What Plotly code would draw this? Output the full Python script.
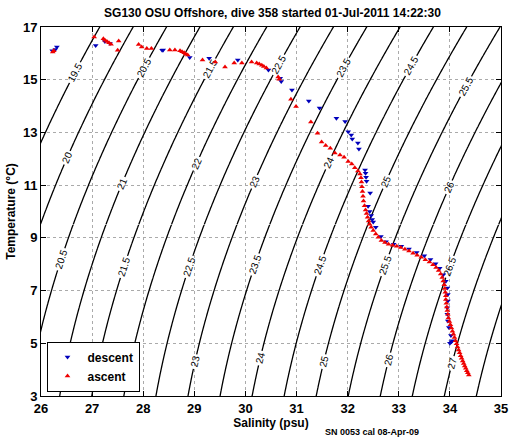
import numpy as np
import plotly.graph_objects as go

# ---- data ----
ascent_S = [34.37, 34.35, 34.33, 34.31, 34.29, 34.27, 34.25, 34.23, 34.21, 34.19, 34.17, 34.15, 34.13, 34.11,
            34.09, 34.07, 34.05, 34.03, 34.01, 33.99, 33.97, 33.96, 33.95, 33.94, 33.93, 33.92, 33.92, 33.91,
            33.90, 33.89, 33.87, 33.85, 33.82, 33.78, 33.73, 33.67, 33.60, 33.52, 33.44, 33.36, 33.28, 33.20,
            33.12, 33.04, 32.96, 32.88, 32.80, 32.73, 32.66, 32.60, 32.55, 32.50, 32.46, 32.43, 32.41, 32.39,
            32.37, 32.35, 32.33, 32.31, 32.30, 32.29, 32.28, 32.27, 32.26, 32.24, 32.20, 32.14, 32.08, 32.01,
            31.93, 31.85, 31.75, 31.66, 31.57, 31.49, 31.41, 31.28, 30.99, 30.89, 30.66, 30.64,
            30.41, 30.36, 30.32, 30.27, 30.22, 30.12, 29.93, 29.78, 29.60, 29.41, 29.16, 28.87, 28.83, 28.80,
            28.76, 28.72, 28.62, 28.52, 28.16, 28.07, 27.97, 27.91, 27.50, 27.52, 27.37, 27.33, 27.29, 27.25,
            27.22, 27.04, 26.25, 26.23]
ascent_T = [3.80, 3.88, 3.96, 4.05, 4.14, 4.23, 4.33, 4.43, 4.53, 4.64, 4.75, 4.86, 4.98, 5.10,
            5.22, 5.34, 5.46, 5.58, 5.70, 5.83, 5.96, 6.10, 6.24, 6.38, 6.52, 6.66, 6.80, 6.94,
            7.08, 7.22, 7.36, 7.50, 7.63, 7.76, 7.88, 7.98, 8.08, 8.17, 8.26, 8.34, 8.42, 8.50,
            8.57, 8.63, 8.68, 8.72, 8.76, 8.82, 8.90, 9.02, 9.15, 9.28, 9.40, 9.52, 9.64, 9.78,
            9.92, 10.06, 10.22, 10.40, 10.58, 10.76, 10.94, 11.12, 11.28, 11.42, 11.54, 11.66, 11.80, 11.90,
            12.06, 12.14, 12.22, 12.40, 12.50, 12.64, 12.97, 13.40, 13.98, 14.26, 15.02, 15.10,
            15.44, 15.50, 15.55, 15.60, 15.63, 15.67, 15.63, 15.63, 15.48, 15.67, 15.75, 15.94, 15.98, 16.02,
            16.06, 16.10, 16.13, 16.13, 16.18, 16.18, 16.24, 16.34, 16.12, 16.47, 16.35, 16.40, 16.45, 16.50,
            16.55, 16.62, 16.10, 16.05]

descent_S = [26.31, 26.28, 26.22, 27.07, 27.25, 27.35, 28.37, 28.39, 28.91, 29.29, 29.85, 30.45, 30.68,
             30.70, 30.91, 31.24, 31.45, 31.78, 31.95, 32.01, 32.07, 32.09, 32.20, 32.22, 32.34, 32.35,
             32.36, 32.37, 32.44, 32.40, 32.43, 32.46, 32.48, 32.50, 32.55, 32.65, 32.75, 32.90, 33.05,
             33.20, 33.35, 33.50, 33.62, 33.72, 33.80, 33.87, 33.92, 33.95, 33.96, 33.96, 33.95, 33.95,
             33.96, 33.98, 34.02, 34.03, 34.00, 34.05]
descent_T = [16.24, 16.15, 16.10, 16.30, 16.45, 16.37, 16.12, 16.13, 15.84, 15.81, 15.75, 15.37, 15.06,
             14.93, 14.61, 14.19, 13.93, 13.54, 13.41, 13.03, 12.90, 12.75, 12.60, 12.37, 11.57, 11.45,
             11.30, 11.15, 10.70, 10.20, 10.00, 9.85, 9.70, 9.60, 9.40, 9.05, 8.85, 8.76, 8.68,
             8.58, 8.44, 8.32, 8.18, 8.02, 7.85, 7.60, 7.35, 7.10, 6.85, 6.60, 6.35, 6.10,
             5.85, 5.60, 5.30, 5.06, 5.00, 5.10]

sigma_levels_start, sigma_levels_end, sigma_levels_step = 19.5, 27.5, 0.5
x_ticks = list(range(26, 36))
y_ticks = [3, 5, 7, 9, 11, 13, 15, 17]


def sigma_t(S, T):
    rw = (999.842594 + 6.793952e-2 * T - 9.095290e-3 * T**2 + 1.001685e-4 * T**3
          - 1.120083e-6 * T**4 + 6.536332e-9 * T**5)
    A = 0.824493 - 4.0899e-3 * T + 7.6438e-5 * T**2 - 8.2467e-7 * T**3 + 5.3875e-9 * T**4
    B = -5.72466e-3 + 1.0227e-4 * T - 1.6546e-6 * T**2
    C = 4.8314e-4
    return rw + A * S + B * S**1.5 + C * S**2 - 1000.0


font_family = "Liberation Sans, Arial, sans-serif"
sg = np.linspace(25.8, 35.2, 190)

fig = go.Figure()
# two stacked contour pieces so every isopycnal gets a label in the upper and lower half
for t_lo, t_hi in [(9.5, 17.2), (2.8, 9.5)]:
    tg = np.linspace(t_lo, t_hi, int(round((t_hi - t_lo) / 0.1)) + 1)
    SS, TT = np.meshgrid(sg, tg)
    fig.add_trace(go.Contour(
        x=sg, y=tg, z=sigma_t(SS, TT),
        contours=dict(start=sigma_levels_start, end=sigma_levels_end, size=sigma_levels_step,
                      coloring="lines", showlabels=True,
                      labelfont=dict(family=font_family, size=10, color="black")),
        colorscale=[[0, "black"], [1, "black"]],
        line=dict(width=1.3, smoothing=1),
        showscale=False, showlegend=False, hoverinfo="skip",
    ))

fig.add_trace(go.Scatter(
    x=descent_S, y=descent_T, mode="markers", name="descent",
    marker=dict(symbol="triangle-down", size=5, color="#0000bb"),
))
fig.add_trace(go.Scatter(
    x=ascent_S, y=ascent_T, mode="markers", name="ascent",
    marker=dict(symbol="triangle-up", size=5, color="#ee0000"),
))

axis_common = dict(
    showline=True, linecolor="black", linewidth=1, mirror="ticks",
    ticks="inside", ticklen=5, tickcolor="black",
    showgrid=True, gridcolor="#aaaaaa", griddash="dot", gridwidth=1,
    zeroline=False,
    tickfont=dict(family=font_family, size=13, color="black", weight="bold"),
)

fig.update_layout(
    width=519, height=442,
    margin=dict(l=41, r=11, t=27, b=46),
    paper_bgcolor="white", plot_bgcolor="white",
    title=dict(text="SG130 OSU Offshore, dive 358 started 01-Jul-2011 14:22:30",
               x=0.525, xanchor="center", y=0.97, yanchor="middle",
               font=dict(family=font_family, size=12, color="black", weight="bold")),
    xaxis=dict(range=[26, 35], tickvals=x_ticks, **axis_common,
               title=dict(text="Salinity (psu)", standoff=4,
                          font=dict(family=font_family, size=12, color="black", weight="bold"))),
    yaxis=dict(range=[3, 17], tickvals=y_ticks, **axis_common,
               title=dict(text="Temperature (°C)", standoff=4,
                          font=dict(family=font_family, size=12, color="black", weight="bold"))),
    legend=dict(x=0.012, y=0.012, xanchor="left", yanchor="bottom",
                bgcolor="white", bordercolor="black", borderwidth=1,
                font=dict(family=font_family, size=12, color="black", weight="bold"),
                itemwidth=30, tracegroupgap=0),
    showlegend=True,
    annotations=[dict(text="SN 0053 cal 08-Apr-09", xref="paper", yref="paper",
                      x=0.72, y=-0.098, xanchor="center", yanchor="middle", showarrow=False,
                      font=dict(family=font_family, size=9, color="black", weight="bold"))],
)

fig.write_html("out.html",
               config={"displayModeBar": False},
               post_script="document.body.style.margin='0';document.body.style.padding='0';"
                           "document.documentElement.style.overflow='hidden';")
